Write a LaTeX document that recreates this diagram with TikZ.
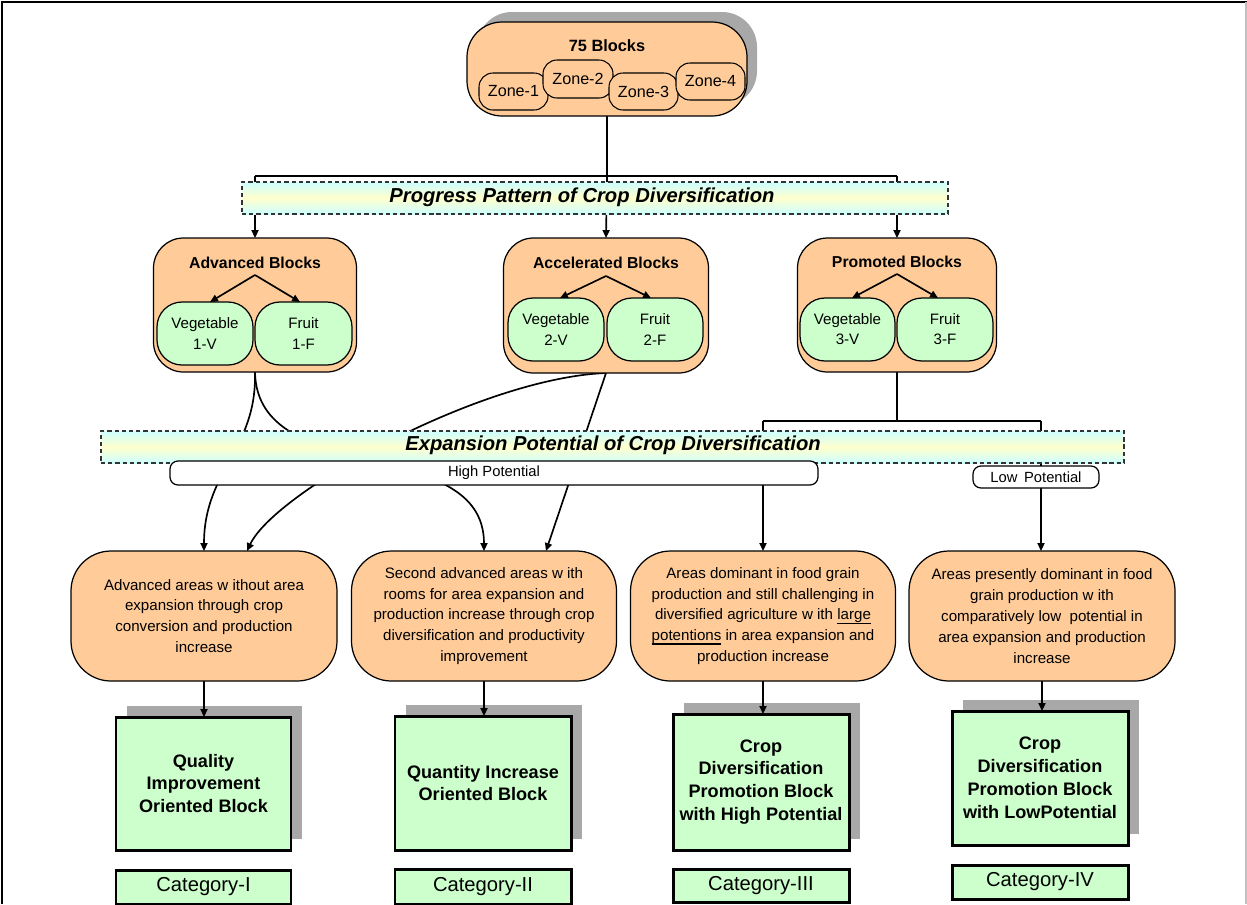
\documentclass[tikz,border=0pt]{standalone}
\usepackage{fontspec}
\setmainfont{Liberation Sans}
\usetikzlibrary{arrows.meta,calc}

\pgfdeclarelayer{shadow}
\pgfdeclarelayer{edges}
\pgfsetlayers{shadow,edges,main}

\definecolor{peach}{RGB}{255,204,153}
\definecolor{mint}{RGB}{204,255,204}
\definecolor{icecyan}{RGB}{205,255,255}
\definecolor{paleyellow}{RGB}{255,255,205}
\definecolor{shadowgray}{RGB}{168,168,168}

% thick underline used inside the area boxes
\newcommand{\ulbar}[1]{\setbox0\hbox{#1}\rlap{\rule[-2.4pt]{\wd0}{0.9pt}}\box0\relax}

\tikzset{
  every node/.style={inner sep=0pt, outer sep=0pt},
  sz/.style 2 args={minimum width=#1*0.02cm, minimum height=#2*0.02cm},
  orangebox/.style={draw=black, line width=0.7pt, fill=peach, rounded corners=0.6cm},
  zonebox/.style={draw=black, line width=0.6pt, fill=peach, rounded corners=0.28cm,
    font=\fontsize{9.2}{11}\selectfont},
  blocktitle/.style={font=\bfseries\fontsize{9}{11}\selectfont},
  pillbox/.style={draw=black, line width=0.7pt, fill=mint, rounded corners=0.5cm,
    align=center, font=\fontsize{8.6}{11.4}\selectfont},
  areabox/.style={draw=black, line width=0.7pt, fill=peach, rounded corners=0.8cm,
    align=center, font=\fontsize{8.6}{11.9}\selectfont},
  outbox/.style={draw=black, line width=1.7pt, fill=mint, align=center,
    font=\bfseries\fontsize{10.3}{13}\selectfont},
  catbox/.style={draw=black, line width=1.7pt, fill=mint,
    font=\fontsize{11.5}{13}\selectfont},
  bandbar/.style={draw=black!80, dash pattern=on 2.4pt off 1.7pt, line width=0.6pt,
    top color=icecyan, bottom color=icecyan, middle color=paleyellow},
  bandtext/.style={font=\bfseries\itshape\fontsize{11.5}{13}\selectfont},
  potbar/.style={draw=black, line width=0.7pt, fill=white, rounded corners=0.16cm,
    font=\fontsize{8.4}{10}\selectfont},
  shadowfill/.style={fill=shadowgray},
  link/.style={line width=0.95pt},
  arr/.style={link, -{Triangle[length=4.5pt,width=4pt]}}
}

\begin{document}
\begin{tikzpicture}[x=0.02cm, y=-0.02cm]
\useasboundingbox (0,0) rectangle (1247,904);

% page frame
\draw[line width=1.4pt] (2,904) -- (2,2) -- (1247,2);
\draw[black!25, line width=0.6pt] (1246,2) -- (1246,904);

% top: all blocks split into zones
\node[orangebox, rounded corners=0.7cm, sz={280}{94}] (top) at (607,69) {};
\node[blocktitle, font=\bfseries\fontsize{9.3}{11}\selectfont] (topT) at (607,46) {75 Blocks};
\node[zonebox, sz={69}{37}] (z1) at (513.5,91.5) {Zone-1};
\node[zonebox, sz={70}{38}] (z2) at (578,79) {Zone-2};
\node[zonebox, sz={69}{37}] (z3) at (643.5,91.5) {Zone-3};
\node[zonebox, sz={69}{37}] (z4) at (710.5,81.5) {Zone-4};

% progress pattern band
\node[bandbar, sz={706}{32}] (prog) at (595,198) {};
\node[bandtext] (progT) at (582,197) {Progress Pattern of Crop Diversification};

% three block groups
\node[orangebox, sz={203}{134}] (adv) at (255,305) {};
\node[blocktitle] (advT) at (255,263) {Advanced Blocks};
\node[pillbox, sz={96}{63}] (v1) at (205,333.5) {Vegetable\\1-V};
\node[pillbox, sz={97}{63}] (f1) at (303.5,333.5) {Fruit\\1-F};

\node[orangebox, sz={205}{135}] (acc) at (606,305.5) {};
\node[blocktitle] (accT) at (606,263) {Accelerated Blocks};
\node[pillbox, sz={96}{63}] (v2) at (556,329.5) {Vegetable\\2-V};
\node[pillbox, sz={96}{63}] (f2) at (655,329.5) {Fruit\\2-F};

\node[orangebox, sz={199}{134}] (pro) at (897,305) {};
\node[blocktitle] (proT) at (897,262) {Promoted Blocks};
\node[pillbox, sz={95}{63}] (v3) at (847.5,329.5) {Vegetable\\3-V};
\node[pillbox, sz={96}{63}] (f3) at (945,329.5) {Fruit\\3-F};

% sub-division arrows inside the groups
\coordinate (a1) at (255,275);
\coordinate (a2) at (606,276);
\coordinate (a3) at (897,274);
\draw[arr] (a1) -- ([xshift=0.1cm]v1.north);
\draw[arr] (a1) -- ([xshift=-0.07cm]f1.north);
\draw[arr] (a2) -- ([xshift=0.08cm]v2.north);
\draw[arr] (a2) -- ([xshift=-0.08cm]f2.north);
\draw[arr] (a3) -- ([xshift=0.09cm]v3.north);
\draw[arr] (a3) -- ([xshift=-0.14cm]f3.north);

% expansion potential band and potential labels
\node[bandbar, sz={1023}{32}] (expb) at (612.5,447) {};
\node[bandtext] (expT) at (613,445) {Expansion Potential of Crop Diversification};
\node[potbar, sz={648}{24}] (hp) at (494,473) {High Potential};
\node[potbar, sz={126}{22}] (lp) at (1036,477) {Low~\,Potential};

% area descriptions
\node[areabox, sz={266}{130}] (o1) at (204,616)
  {Advanced areas w ithout area\\expansion through crop\\conversion and production\\increase};
\node[areabox, sz={265}{130}] (o2) at (484,616)
  {Second advanced areas w ith\\rooms for area expansion and\\production increase through crop\\diversification and productivity\\improvement};
\node[areabox, sz={265}{130}] (o3) at (763,616)
  {Areas dominant in food grain\\production and still challenging in\\diversified agriculture w ith \ulbar{large}\\\ulbar{potentions} in area expansion and\\production increase};
\node[areabox, sz={266}{130}] (o4) at (1042,616)
  {Areas presently dominant in food\\grain production w ith\\comparatively low\ \ potential in\\area expansion and production\\increase};

% block types
\node[outbox, sz={175}{133}] (g1) at (203.5,783.5) {Quality\\Improvement\\Oriented Block};
\node[outbox, sz={176}{134}] (g2) at (483,783) {Quantity Increase\\Oriented Block};
\node[outbox, sz={176}{136}] (g3) at (761,782) {Crop\\Diversification\\Promotion Block\\with High Potential};
\node[outbox, sz={176}{134}] (g4) at (1040,778) {Crop\\Diversification\\Promotion Block\\with LowPotential};

% categories
\node[catbox, sz={175}{34}] (c1) at (203.5,887) {Category-I};
\node[catbox, sz={176}{35}] (c2) at (483,886.5) {Category-II};
\node[catbox, sz={176}{33}] (c3) at (761,885.5) {Category-III};
\node[catbox, sz={176}{34}] (c4) at (1040,882) {Category-IV};

% drop shadows
\begin{pgfonlayer}{shadow}
  \fill[shadowfill, rounded corners=0.7cm]
    ($(top.south west)+(10,-10)$) rectangle ($(top.north east)+(10,-10)$);
  \foreach \g in {g1,g2,g3,g4}
    \fill[shadowfill] ($(\g.south west)+(11,-11)$) rectangle ($(\g.north east)+(11,-11)$);
\end{pgfonlayer}

% connectors
\begin{pgfonlayer}{edges}
  \coordinate (j0) at (607,176);
  \coordinate (jL) at (255,176);
  \coordinate (jR) at (897,176);
  \draw[link] (top.south) -- (j0);
  \draw[link] (jL) -- (jR);
  \draw[arr] (jL) -- (adv.north);
  \draw[arr] (j0) -- (acc.north);
  \draw[arr] (jR) -- (pro.north);

  \draw[arr] (adv.south) .. controls (257,450) and (204,470) .. (o1.north);
  \draw[arr] (adv.south) .. controls (257,489) and (484,433) .. (o2.north);
  \draw[arr] (acc.south) .. controls (480,378) and (275,492) .. ([xshift=0.86cm]o1.north);
  \draw[arr] (acc.south) -- ([xshift=1.24cm]o2.north);

  \coordinate (pj) at (897,421);
  \coordinate (pjL) at (763,421);
  \coordinate (pjR) at (1041,421);
  \draw[link] (pro.south) -- (pj);
  \draw[link] (pjL) -- (pjR);
  \draw[link] (pjL) -- (pjL |- hp.north);
  \draw[link] (pjR) -- (pjR |- lp.north);
  \draw[arr] (pjL |- hp.south) -- (pjL |- o3.north);
  \draw[arr] (pjR |- lp.south) -- (pjR |- o4.north);

  \draw[arr] (o1.south) -- (o1.south |- g1.north);
  \draw[arr] (o2.south) -- (o2.south |- g2.north);
  \draw[arr] (o3.south) -- (o3.south |- g3.north);
  \draw[arr] (o4.south) -- (o4.south |- g4.north);
\end{pgfonlayer}
\end{tikzpicture}
\end{document}
